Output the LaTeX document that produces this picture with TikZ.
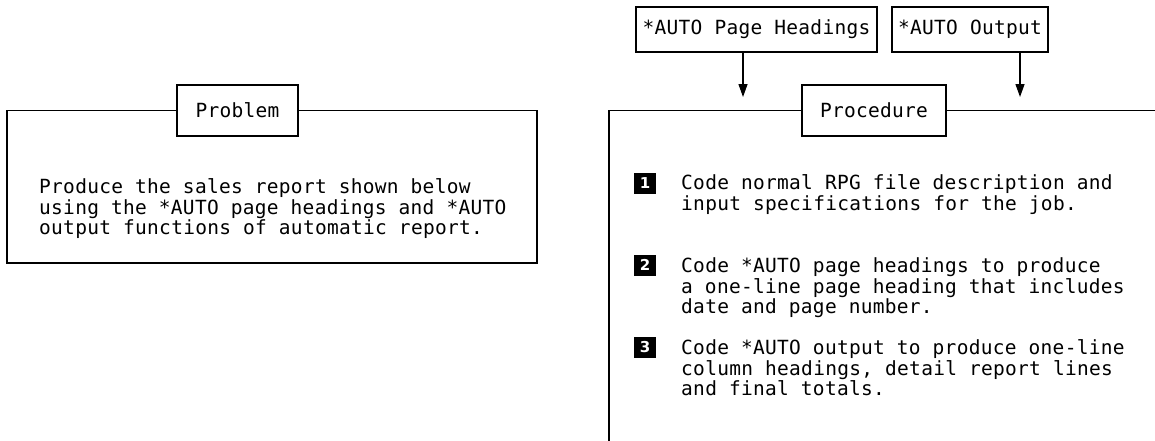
\documentclass[tikz,border=0pt]{standalone}
\usepackage{fontspec}
\usetikzlibrary{arrows.meta}
\newfontfamily\monof[LetterSpace=1.5]{DejaVu Sans Mono}
\newfontfamily\numf{DejaVu Sans}
\newcommand{\firstln}{\rule{0pt}{15pt}}
\tikzset{
  txt/.style={font=\monof\fontsize{19.5}{20.7}\selectfont, inner sep=0pt, align=left, anchor=north west},
  lbl/.style={draw, line width=1.3pt, fill=white, inner sep=0pt, font=\monof\fontsize{19.5}{20.7}\selectfont},
  frame/.style={line width=1.3pt},
  arr/.style={line width=1.3pt, -{Triangle[length=13pt,width=9pt]}},
  numbox/.style={fill=black, text=white, minimum width=22pt, minimum height=21pt, inner sep=0pt, font=\numf\bfseries\fontsize{15}{15}\selectfont}
}
\begin{document}
\begin{tikzpicture}[x=1pt,y=-1pt]
\useasboundingbox (0,0) rectangle (1155,440);
% Problem
\node[lbl, minimum width=121pt, minimum height=51pt] (prob) at (237.5,110.5) {Problem};
\draw[frame] (prob.west) -- (7,110.5) -- (7,263) -- (537,263) -- (537,110.5) -- (prob.east);
\node[txt] (ptext) at (39,178.1) {\firstln Produce the sales report shown below\\using the *AUTO page headings and *AUTO\\output functions of automatic report.};
% Procedure
\node[lbl, minimum width=144pt, minimum height=51pt] (proc) at (874,110.5) {Procedure};
\draw[frame] (proc.west) -- (609,110.5) -- (609,442);
\draw[frame] (proc.east) -- (1157,110.5);
% top boxes
\node[lbl, minimum width=241pt, minimum height=45pt] (aph) at (756.5,29.5) {*AUTO Page Headings};
\node[lbl, minimum width=156pt, minimum height=45pt] (aout) at (970,29.5) {*AUTO Output};
\coordinate (t1) at (743,97);
\coordinate (t2) at (1020,97);
\draw[arr] (aph.south -| t1) -- (t1);
\draw[arr] (aout.south -| t2) -- (t2);
% items
\node[numbox] (n1) at (645,183) {1};
\node[txt] (i1) at (681,174.1) {\firstln Code normal RPG file description and\\input specifications for the job.};
\node[numbox] (n2) at (645,265) {2};
\node[txt] (i2) at (681,257.1) {\firstln Code *AUTO page headings to produce\\a one-line page heading that includes\\date and page number.};
\node[numbox] (n3) at (645,347) {3};
\node[txt] (i3) at (681,339.1) {\firstln Code *AUTO output to produce one-line\\column headings, detail report lines\\and final totals.};
\end{tikzpicture}
\end{document}
